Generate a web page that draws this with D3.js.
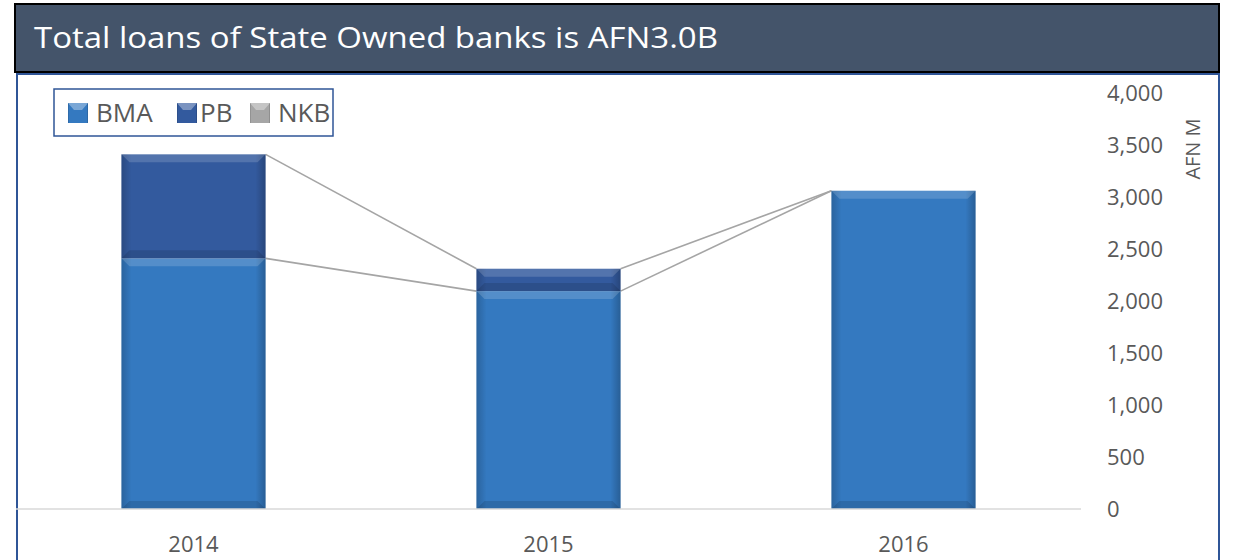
<!DOCTYPE html>
<html>
<head>
<meta charset="utf-8">
<script src="https://cdn.jsdelivr.net/npm/d3@7"></script>
<style>
  body { margin: 0; background: #fff; }
  text { font-family: "Open Sans", Lato, sans-serif; }
</style>
</head>
<body>
<div id="chart"></div>
<script>
(function() {

var years = ["2014", "2015", "2016"];
var seriesNames = ["BMA", "PB", "NKB"];
var bma = [2410, 2095, 3060];
var pb = [1000, 215, 0];
var nkb = [0, 0, 0];
var yTicks = [0, 500, 1000, 1500, 2000, 2500, 3000, 3500, 4000];
var title = "Total loans of State Owned banks is AFN3.0B";

var colors = { BMA: "#3479c0", PB: "#335a9e", NKB: "#a6a6a6" };

var W = 1237, H = 560;
var plot = { left: 16, right: 1081, top: 93, bottom: 509 };

var svg = d3.select("#chart").append("svg")
    .attr("width", W)
    .attr("height", H);

var defs = svg.append("defs");

// bevel: darker left/right edges
var hg = defs.append("linearGradient").attr("id", "bevelH").attr("x1", 0).attr("x2", 1).attr("y1", 0).attr("y2", 0);
hg.append("stop").attr("offset", "0").attr("stop-color", "#000").attr("stop-opacity", 0.18);
hg.append("stop").attr("offset", "0.07").attr("stop-color", "#000").attr("stop-opacity", 0);
hg.append("stop").attr("offset", "0.93").attr("stop-color", "#000").attr("stop-opacity", 0);
hg.append("stop").attr("offset", "1").attr("stop-color", "#000").attr("stop-opacity", 0.22);

// frame
svg.append("rect")
    .attr("x", 17).attr("y", 74)
    .attr("width", 1202).attr("height", 500)
    .attr("fill", "none")
    .attr("stroke", "#2f5597")
    .attr("stroke-width", 2);

// title bar
svg.append("rect")
    .attr("x", 15).attr("y", 4)
    .attr("width", 1204).attr("height", 68)
    .attr("fill", "#44546a")
    .attr("stroke", "#000")
    .attr("stroke-width", 2);

svg.append("text")
    .attr("x", 34).attr("y", 48)
    .attr("fill", "#fff")
    .attr("font-size", 29)
    .attr("textLength", 684)
    .attr("lengthAdjust", "spacingAndGlyphs")
    .text(title);

var x = d3.scaleBand()
    .domain(years)
    .range([plot.left, plot.right])
    .paddingInner(0.594)
    .paddingOuter(0.297);

var y = d3.scaleLinear()
    .domain([0, 4000])
    .range([plot.bottom, plot.top]);

var data = years.map(function(yr, i) {
  return { year: yr, BMA: bma[i], PB: pb[i], NKB: nkb[i] };
});

var stack = d3.stack().keys(seriesNames)(data);

// series lines between bars
var g = svg.append("g");
stack.forEach(function(layer) {
  if (layer.key === "NKB") return;
  for (var i = 0; i < layer.length - 1; i++) {
    var a = layer[i], b = layer[i + 1];
    g.append("line")
      .attr("x1", x(years[i]) + x.bandwidth())
      .attr("y1", y(a[1]))
      .attr("x2", x(years[i + 1]))
      .attr("y2", y(b[1]))
      .attr("stroke", "#a5a5a5")
      .attr("stroke-width", 1.6);
  }
});

// baseline
svg.append("line")
    .attr("x1", plot.left).attr("x2", plot.right)
    .attr("y1", plot.bottom).attr("y2", plot.bottom)
    .attr("stroke", "#d9d9d9")
    .attr("stroke-width", 1.5);

// bars
stack.forEach(function(layer) {
  var col = colors[layer.key];
  layer.forEach(function(d, i) {
    var h = y(d[0]) - y(d[1]);
    if (h <= 0) return;
    var bx = x(years[i]), by = y(d[1]), bw = x.bandwidth();
    var bar = g.append("g");
    bar.append("rect")
      .attr("x", bx).attr("y", by)
      .attr("width", bw).attr("height", h)
      .attr("fill", col);
    bar.append("rect")
      .attr("x", bx).attr("y", by)
      .attr("width", bw).attr("height", h)
      .attr("fill", "url(#bevelH)");
    var t = Math.min(8, h / 2);
    bar.append("polygon")
      .attr("points", [[bx, by], [bx + bw, by], [bx + bw - t, by + t], [bx + t, by + t]].join(" "))
      .attr("fill", "#fff").attr("opacity", 0.16);
    bar.append("polygon")
      .attr("points", [[bx, by + h], [bx + bw, by + h], [bx + bw - t, by + h - t], [bx + t, by + h - t]].join(" "))
      .attr("fill", "#000").attr("opacity", 0.12);
  });
});

// y axis on the right
var yAxis = svg.append("g")
    .attr("transform", "translate(1107,0)")
    .call(d3.axisRight(y).tickValues(yTicks).tickSize(0).tickPadding(0).tickFormat(d3.format(",")));
yAxis.select(".domain").remove();
yAxis.selectAll("text")
    .attr("fill", "#595959")
    .attr("font-size", 22)
    .style("font-family", "'Open Sans', sans-serif");

svg.append("text")
    .attr("transform", "translate(1200,149) rotate(-90)")
    .attr("text-anchor", "middle")
    .attr("fill", "#595959")
    .attr("font-size", 20)
    .text("AFN M");

// x axis labels
var xAxis = svg.append("g")
    .attr("transform", "translate(0," + plot.bottom + ")")
    .call(d3.axisBottom(x).tickSize(0).tickPadding(27));
xAxis.select(".domain").remove();
xAxis.selectAll("text")
    .attr("fill", "#595959")
    .attr("font-size", 22)
    .style("font-family", "'Open Sans', sans-serif");

// legend
svg.append("rect")
    .attr("x", 54).attr("y", 89)
    .attr("width", 279).attr("height", 47)
    .attr("fill", "#fff")
    .attr("stroke", "#2f5597")
    .attr("stroke-width", 1.5);

var legendX = [68, 177, 250];
var legendTextX = [96, 200, 278];
seriesNames.forEach(function(k, i) {
  var lx = legendX[i];
  svg.append("rect")
    .attr("x", lx).attr("y", 103)
    .attr("width", 20).attr("height", 20)
    .attr("fill", colors[k]);
  svg.append("rect")
    .attr("x", lx).attr("y", 103)
    .attr("width", 20).attr("height", 20)
    .attr("fill", "url(#bevelH)");
  svg.append("polygon")
    .attr("points", [[lx, 103], [lx + 20, 103], [lx + 14, 110], [lx + 6, 110]].join(" "))
    .attr("fill", "#fff").attr("opacity", 0.35);
  svg.append("text")
    .attr("x", legendTextX[i]).attr("y", 122)
    .attr("fill", "#595959")
    .attr("font-size", 26)
    .text(k);
});

})();
</script>
</body>
</html>
